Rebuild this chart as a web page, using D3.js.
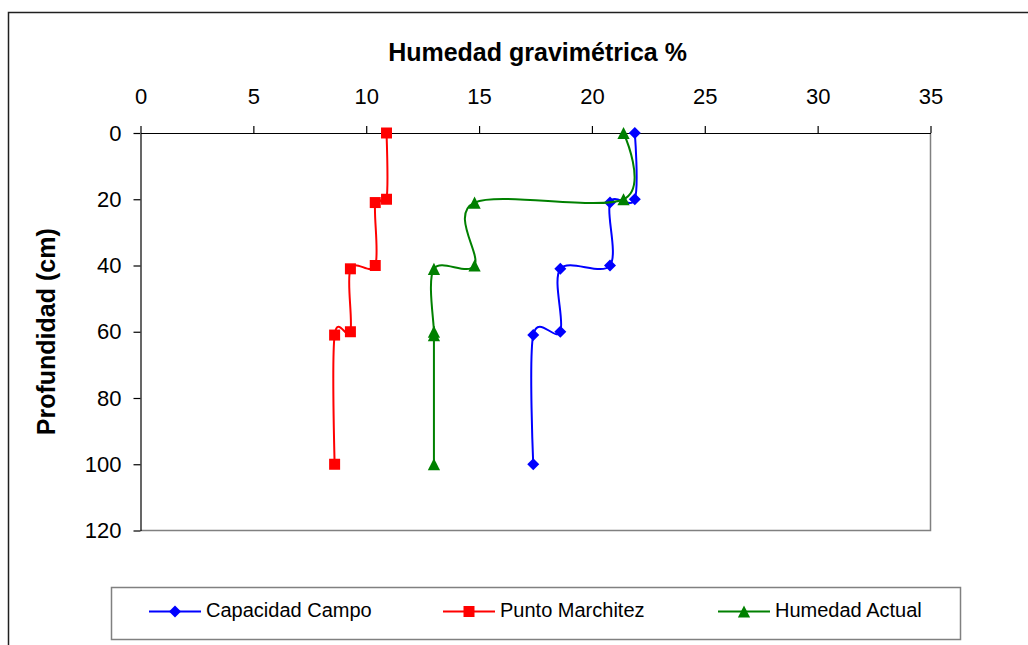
<!DOCTYPE html>
<html>
<head>
<meta charset="utf-8">
<script src="https://cdn.jsdelivr.net/npm/d3@7"></script>
<style>
  body { margin: 0; background: #fff; }
  svg { display: block; font-family: "Liberation Sans", Arial, sans-serif; }
</style>
</head>
<body>
<script>
/* profile data: depth (cm) and gravimetric moisture (%) */
let depth = [0, 20, 21, 40, 41, 60, 61, 100];
let capacidadCampo = [21.9, 21.9, 20.8, 20.8, 18.6, 18.6, 17.4, 17.4];
let puntoMarchitez = [10.9, 10.9, 10.4, 10.4, 9.3, 9.3, 8.6, 8.6];
let humedadActual = [21.4, 21.4, 14.8, 14.8, 13.0, 13.0, 13.0, 13.0];

let xTicks = [0, 5, 10, 15, 20, 25, 30, 35];
let yTicks = [0, 20, 40, 60, 80, 100, 120];

let seriesNames = ["Capacidad Campo", "Punto Marchitez", "Humedad Actual"];
let seriesColors = ["#0000ff", "#ff0000", "#008000"];

let width = 1028;
let height = 645;

/* plot area in pixels */
let plotLeft = 140.5;
let plotRight = 930.5;
let plotTop = 133;
let plotBottom = 530.5;

let svg = d3.select("body")
    .append("svg")
    .attr("width", width)
    .attr("height", height);

/* outer chart frame, cut off by the window on the right and bottom */
svg.append("rect")
    .attr("x", 8.5).attr("y", 12.5)
    .attr("width", 1100).attr("height", 700)
    .attr("fill", "none")
    .attr("stroke", "#202020")
    .attr("stroke-width", 1.5);

let xScale = d3.scaleLinear().domain([0, 35]).range([plotLeft, plotRight]);
let yScale = d3.scaleLinear().domain([0, 120]).range([plotTop, plotBottom]);

/* gray right and bottom border of the plot area */
svg.append("path")
    .attr("d", "M" + plotRight + "," + plotTop + "V" + plotBottom + "H" + plotLeft)
    .attr("fill", "none")
    .attr("stroke", "#808080")
    .attr("stroke-width", 1.5);

let xAxis = d3.axisTop(xScale)
    .tickValues(xTicks)
    .tickSizeInner(7)
    .tickSizeOuter(0)
    .tickPadding(22);

let yAxis = d3.axisLeft(yScale)
    .tickValues(yTicks)
    .tickSizeInner(7)
    .tickSizeOuter(0)
    .tickPadding(12);

let gx = svg.append("g")
    .attr("transform", "translate(0," + plotTop + ")")
    .call(xAxis);

let gy = svg.append("g")
    .attr("transform", "translate(" + plotLeft + ",0)")
    .call(yAxis);

[gx, gy].forEach(g => {
    g.selectAll("path, line").attr("stroke", "#000").attr("stroke-width", 1.2);
    g.selectAll("text")
        .attr("fill", "#000")
        .style("font-size", "22px")
        .style("font-family", "'Liberation Sans', Arial, sans-serif");
});
gx.selectAll("text").attr("dy", "0em");

/* axis titles */
svg.append("text")
    .attr("x", (plotLeft + plotRight) / 2 + 2)
    .attr("y", 61)
    .attr("text-anchor", "middle")
    .style("font-size", "25px")
    .style("font-weight", "bold")
    .text("Humedad gravimétrica %");

svg.append("text")
    .attr("transform", "translate(55," + ((plotTop + plotBottom) / 2) + ") rotate(-90)")
    .attr("text-anchor", "middle")
    .style("font-size", "25px")
    .style("font-weight", "bold")
    .text("Profundidad (cm)");

/* marker shapes like the spreadsheet ones */
let diamondType = {
    draw: function(ctx, size) {
        let r = Math.sqrt(size) / 2 * Math.SQRT2;
        ctx.moveTo(0, -r); ctx.lineTo(r, 0); ctx.lineTo(0, r); ctx.lineTo(-r, 0); ctx.closePath();
    }
};
let squareType = {
    draw: function(ctx, size) {
        let r = Math.sqrt(size) / 2;
        ctx.rect(-r, -r, 2 * r, 2 * r);
    }
};
let triangleType = {
    draw: function(ctx, size) {
        let r = Math.sqrt(size) / 2;
        ctx.moveTo(0, -r); ctx.lineTo(r, r); ctx.lineTo(-r, r); ctx.closePath();
    }
};
let markerTypes = [diamondType, squareType, triangleType];
let markerSizes = [72, 121, 150];

let allSeries = [capacidadCampo, puntoMarchitez, humedadActual];

let line = d3.line()
    .x(d => xScale(d[0]))
    .y(d => yScale(d[1]))
    .curve(d3.curveCatmullRom.alpha(0));

allSeries.forEach((values, s) => {
    let pts = values.map((v, i) => [v, depth[i]]);

    svg.append("path")
        .datum(pts)
        .attr("d", line)
        .attr("fill", "none")
        .attr("stroke", seriesColors[s])
        .attr("stroke-width", 2);

    svg.selectAll("path.m" + s)
        .data(pts)
        .enter()
        .append("path")
        .attr("class", "m" + s)
        .attr("transform", d => "translate(" + xScale(d[0]) + "," + yScale(d[1]) + ")")
        .attr("d", d3.symbol().type(markerTypes[s]).size(markerSizes[s]))
        .attr("fill", seriesColors[s]);
});

/* legend */
let legendY = 611.5;
svg.append("rect")
    .attr("x", 111.5).attr("y", 587.5)
    .attr("width", 849).attr("height", 52)
    .attr("fill", "#fff")
    .attr("stroke", "#808080")
    .attr("stroke-width", 1.5);

let legendX = [149, 443, 718];
seriesNames.forEach((name, s) => {
    let x0 = legendX[s];
    svg.append("line")
        .attr("x1", x0).attr("x2", x0 + 52)
        .attr("y1", legendY).attr("y2", legendY)
        .attr("stroke", seriesColors[s])
        .attr("stroke-width", 2);
    svg.append("path")
        .attr("transform", "translate(" + (x0 + 26) + "," + legendY + ")")
        .attr("d", d3.symbol().type(markerTypes[s]).size(markerSizes[s]))
        .attr("fill", seriesColors[s]);
    svg.append("text")
        .attr("x", x0 + 57)
        .attr("y", legendY + 5.5)
        .style("font-size", "20px")
        .text(name);
});
</script>
</body>
</html>
